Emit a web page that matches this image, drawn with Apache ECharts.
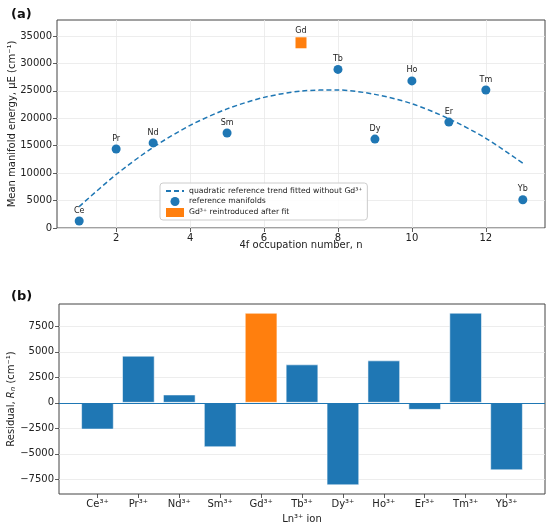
<!DOCTYPE html>
<html>
<head>
<meta charset="utf-8">
<script src="https://cdn.jsdelivr.net/npm/echarts@6.0.0/dist/echarts.min.js"></script>
<style>
  html, body { margin: 0; padding: 0; background: #fff; }
  #chart { width: 550px; height: 527px; }
</style>
</head>
<body>
<div id="chart"></div>
<script>
  // panel (a): mean manifold energies
  var occN = [1, 2, 3, 5, 8, 9, 10, 11, 12, 13];
  var occLabels = ['Ce', 'Pr', 'Nd', 'Sm', 'Tb', 'Dy', 'Ho', 'Er', 'Tm', 'Yb'];
  var meanEnergy = [1280, 14400, 15500, 17300, 28900, 16200, 26800, 19300, 25150, 5150];
  var gdN = 7;
  var gdEnergy = 33750;
  var fitN = [1, 2, 3, 4, 5, 6, 7, 8, 9, 10, 11, 12, 13];
  var fitEnergy = [3900, 9750, 14700, 18700, 21700, 23800, 24950, 25150, 24350, 22650, 19900, 16350, 11800];
  var topYTicks = [0, 5000, 10000, 15000, 20000, 25000, 30000, 35000];
  var topXTicks = [2, 4, 6, 8, 10, 12];

  // panel (b): residuals
  var ions = ['Ce³⁺', 'Pr³⁺', 'Nd³⁺', 'Sm³⁺', 'Gd³⁺', 'Tb³⁺', 'Dy³⁺', 'Ho³⁺', 'Er³⁺', 'Tm³⁺', 'Yb³⁺'];
  var residuals = [-2620, 4620, 820, -4350, 8820, 3770, -8080, 4160, -690, 8830, -6610];
  var gdIndex = 4;
  var botYTicks = [-7500, -5000, -2500, 0, 2500, 5000, 7500];

  var BLUE = '#1f77b4', ORANGE = '#ff7f0e';
  var FONT = 'DejaVu Sans';

  function plain(v) { return String(v).replace('-', '\u2212'); }

  var chart = echarts.init(document.getElementById('chart'));

  var axisCommon = {
    nameMoveOverlap: false,
    axisLine: { show: false, onZero: false },
    axisTick: { show: true, inside: false, length: 4, lineStyle: { color: '#333', width: 0.8 } },
    axisLabel: { color: '#222', fontSize: 10, fontFamily: FONT, margin: 5 },
    nameTextStyle: { color: '#222', fontSize: 10, fontFamily: FONT },
    splitLine: { show: true, lineStyle: { color: '#e8e8e8', width: 0.8 } }
  };

  function ax(extra) {
    var o = JSON.parse(JSON.stringify(axisCommon));
    for (var k in extra) {
      if (typeof extra[k] === 'object' && o[k] && !Array.isArray(extra[k])) {
        for (var j in extra[k]) o[k][j] = extra[k][j];
      } else o[k] = extra[k];
    }
    return o;
  }

  var scatterData = occN.map(function (n, i) {
    return { value: [n, meanEnergy[i]], name: occLabels[i] };
  });
  var fitData = fitN.map(function (n, i) { return [n, fitEnergy[i]]; });
  var barData = ions.map(function (name, i) {
    return {
      value: [i, residuals[i]],
      itemStyle: { color: i === gdIndex ? ORANGE : BLUE }
    };
  });
  var ionPos = ions.map(function (d, i) { return i; });

  chart.setOption({
    animation: false,
    textStyle: { fontFamily: FONT },
    title: [
      { text: '(a)', left: 6, top: 3, textStyle: { fontSize: 13, fontWeight: 'bold', color: '#111', fontFamily: FONT } },
      { text: '(b)', left: 6, top: 285, textStyle: { fontSize: 13, fontWeight: 'bold', color: '#111', fontFamily: FONT } }
    ],
    grid: [
      { left: 57, top: 20, width: 488, height: 208, outerBoundsMode: 'none', show: true, borderColor: '#444', borderWidth: 1, backgroundColor: 'transparent' },
      { left: 59, top: 304, width: 486, height: 190, outerBoundsMode: 'none', show: true, borderColor: '#444', borderWidth: 1, backgroundColor: 'transparent' }
    ],
    legend: {
      left: 160, top: 183,
      orient: 'vertical',
      itemWidth: 18, itemHeight: 9, itemGap: 2,
      padding: [4, 5, 3, 5],
      backgroundColor: 'rgba(255,255,255,0.85)',
      borderColor: '#ccc', borderWidth: 1, borderRadius: 3,
      textStyle: { fontSize: 7.7, color: '#222', fontFamily: FONT },
      data: [
        // hide the default circle drawn on line legend icons
        { name: 'quadratic reference trend fitted without Gd³⁺', itemStyle: { color: 'rgba(0,0,0,0)', borderColor: 'rgba(0,0,0,0)', borderWidth: 0 } },
        { name: 'reference manifolds', icon: 'circle' },
        { name: 'Gd³⁺ reintroduced after fit', icon: 'rect' }
      ]
    },
    xAxis: [
      ax({
        gridIndex: 0, type: 'value', min: 0.4, max: 13.6,
        name: '4f occupation number, n', nameLocation: 'middle', nameGap: 12,
        axisTick: { customValues: topXTicks },
        axisLabel: { customValues: topXTicks, formatter: plain }
      }),
      ax({
        gridIndex: 1, type: 'value', min: -0.94, max: 10.94,
        name: 'Ln³⁺ ion', nameLocation: 'middle', nameGap: 20,
        axisTick: { customValues: ionPos },
        axisLabel: {
          customValues: ionPos,
          formatter: function (v) { return ions[Math.round(v)]; }
        },
        splitLine: { show: false }
      })
    ],
    yAxis: [
      ax({
        gridIndex: 0, type: 'value', min: 0, max: 37900,
        name: 'Mean manifold energy, μE (cm⁻¹)', nameLocation: 'middle', nameGap: 40,
        axisTick: { customValues: topYTicks },
        axisLabel: { customValues: topYTicks, formatter: plain }
      }),
      ax({
        gridIndex: 1, type: 'value', min: -8930, max: 9680,
        name: '{t|Residual, }{i|R}{s|n}{t| (cm⁻¹)}', nameLocation: 'middle', nameGap: 42,
        nameTextStyle: {
          rich: {
            t: { fontSize: 10, color: '#222', fontFamily: FONT },
            i: { fontSize: 10, color: '#222', fontFamily: FONT, fontStyle: 'italic' },
            s: { fontSize: 7, color: '#222', fontFamily: FONT, fontStyle: 'italic', verticalAlign: 'bottom', padding: [4, 0, 0, 0] }
          }
        },
        axisTick: { customValues: botYTicks },
        axisLabel: { customValues: botYTicks, formatter: plain }
      })
    ],
    series: [
      {
        name: 'quadratic reference trend fitted without Gd³⁺',
        type: 'line', xAxisIndex: 0, yAxisIndex: 0,
        data: fitData, smooth: 0.3, symbol: 'none',
        lineStyle: { color: BLUE, width: 1.5, type: [5, 3] },
        itemStyle: { color: BLUE },
        z: 2
      },
      {
        name: 'reference manifolds',
        type: 'scatter', xAxisIndex: 0, yAxisIndex: 0,
        data: scatterData, symbolSize: 9,
        itemStyle: { color: BLUE, opacity: 1 },
        label: {
          show: true, position: 'top', distance: 2,
          formatter: '{b}', fontSize: 8, color: '#222', fontFamily: FONT
        },
        z: 3
      },
      {
        name: 'Gd³⁺ reintroduced after fit',
        type: 'scatter', xAxisIndex: 0, yAxisIndex: 0,
        data: [{ value: [gdN, gdEnergy], name: 'Gd' }],
        symbol: 'rect', symbolSize: 11,
        itemStyle: { color: ORANGE, opacity: 1 },
        label: {
          show: true, position: 'top', distance: 2,
          formatter: '{b}', fontSize: 8, color: '#222', fontFamily: FONT
        },
        z: 3
      },
      {
        name: 'residual',
        type: 'bar', xAxisIndex: 1, yAxisIndex: 1,
        data: barData, barWidth: 32.7,
        itemStyle: { borderColor: 'rgba(255,255,255,0.55)', borderWidth: 1 },
        markLine: {
          silent: true, symbol: 'none', label: { show: false },
          lineStyle: { color: BLUE, width: 1, type: 'solid' },
          data: [{ yAxis: 0 }]
        }
      }
    ]
  });
</script>
</body>
</html>
